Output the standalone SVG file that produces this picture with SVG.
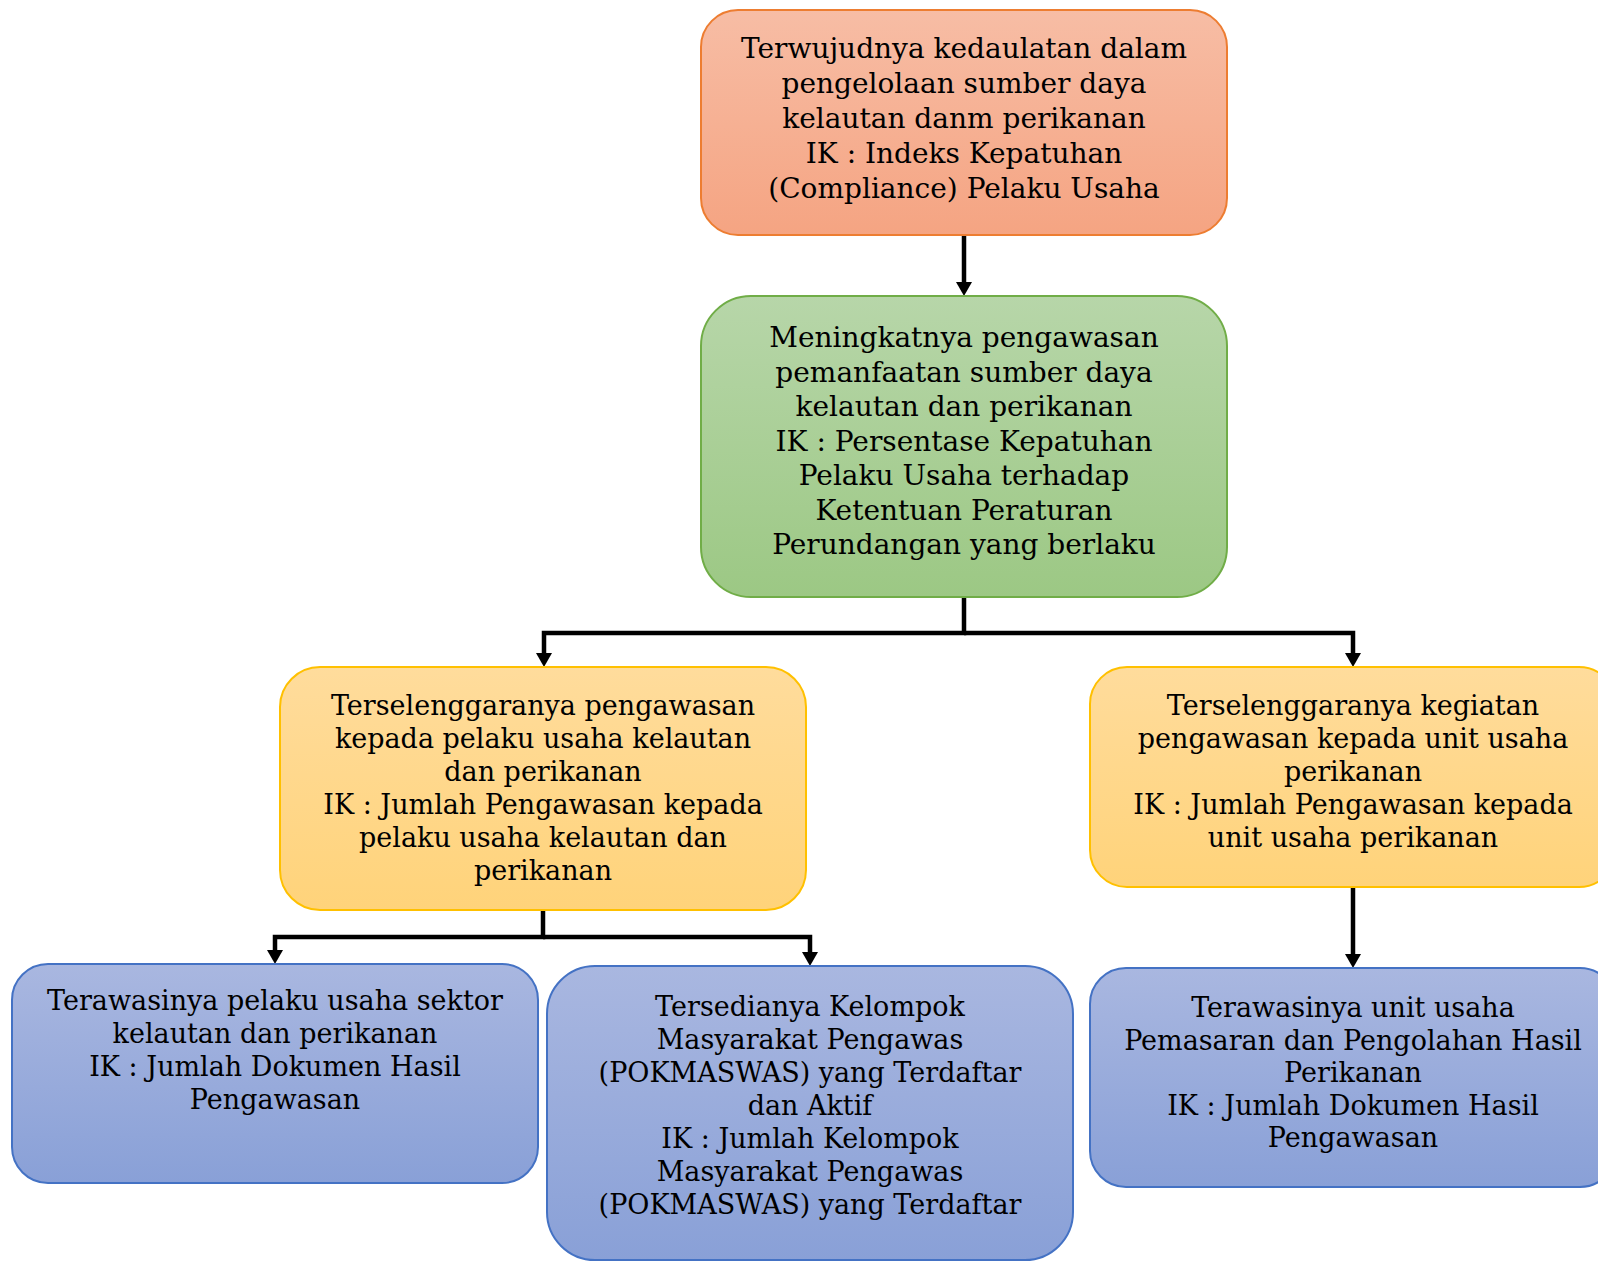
<svg xmlns="http://www.w3.org/2000/svg" width="1598" height="1261" viewBox="0 0 1598 1261">
<defs>
<linearGradient id="gOrange" x1="0" y1="0" x2="0" y2="1"><stop offset="0" stop-color="#F7BDA5"/><stop offset="1" stop-color="#F5A482"/></linearGradient>
<linearGradient id="gGreen" x1="0" y1="0" x2="0" y2="1"><stop offset="0" stop-color="#B7D6A9"/><stop offset="1" stop-color="#9CC884"/></linearGradient>
<linearGradient id="gYellow" x1="0" y1="0" x2="0" y2="1"><stop offset="0" stop-color="#FFDC9C"/><stop offset="1" stop-color="#FFD37A"/></linearGradient>
<linearGradient id="gBlue" x1="0" y1="0" x2="0" y2="1"><stop offset="0" stop-color="#A9B7E0"/><stop offset="1" stop-color="#89A0D7"/></linearGradient>
<marker id="arr" viewBox="0 0 14 16" refX="4" refY="8" markerWidth="14" markerHeight="16" markerUnits="userSpaceOnUse" orient="auto"><path d="M0,0 L14,8 L0,16 z" fill="#000"/></marker>
</defs>
<style>
.orange{fill:url(#gOrange);stroke:#ED7D31;stroke-width:2}
.green{fill:url(#gGreen);stroke:#70AD47;stroke-width:2}
.yellow{fill:url(#gYellow);stroke:#FFC000;stroke-width:2}
.blue{fill:url(#gBlue);stroke:#4472C4;stroke-width:2}
text{font-family:"DejaVu Serif","Liberation Serif",serif;fill:#000;text-anchor:middle}
.t28{font-size:28px}
.t27{font-size:27px}
.conn{fill:none;stroke:#000;stroke-width:4.5;marker-end:url(#arr)}
</style>
<g id="connectors">
<path class="conn" d="M964 235 V286"/>
<path class="conn" d="M964 597 V633 H544 V657"/>
<path class="conn" d="M964 633 H1353 V657"/>
<path class="conn" d="M543 910 V937 H275 V954"/>
<path class="conn" d="M543 937 H810 V956"/>
<path class="conn" d="M1353 887 V958"/>
</g>
<g id="node-top">
<rect class="orange" x="701" y="10" width="526" height="225" rx="37"/>
<text class="t28" x="964" y="58">Terwujudnya kedaulatan dalam</text>
<text class="t28" x="964" y="93">pengelolaan sumber daya</text>
<text class="t28" x="964" y="128">kelautan danm perikanan</text>
<text class="t28" x="964" y="163">IK : Indeks Kepatuhan</text>
<text class="t28" x="964" y="197.5">(Compliance) Pelaku Usaha</text>
</g>
<g id="node-green">
<rect class="green" x="701" y="296" width="526" height="301" rx="50"/>
<text class="t28" x="964" y="347">Meningkatnya pengawasan</text>
<text class="t28" x="964" y="381.5">pemanfaatan sumber daya</text>
<text class="t28" x="964" y="416">kelautan dan perikanan</text>
<text class="t28" x="964" y="450.5">IK : Persentase Kepatuhan</text>
<text class="t28" x="964" y="485">Pelaku Usaha terhadap</text>
<text class="t28" x="964" y="519.5">Ketentuan Peraturan</text>
<text class="t28" x="964" y="554">Perundangan yang berlaku</text>
</g>
<g id="node-yellow-left">
<rect class="yellow" x="280" y="667" width="526" height="243" rx="40"/>
<text class="t27" x="543" y="715">Terselenggaranya pengawasan</text>
<text class="t27" x="543" y="748">kepada pelaku usaha kelautan</text>
<text class="t27" x="543" y="781">dan perikanan</text>
<text class="t27" x="543" y="814">IK : Jumlah Pengawasan kepada</text>
<text class="t27" x="543" y="847">pelaku usaha kelautan dan</text>
<text class="t27" x="543" y="880">perikanan</text>
</g>
<g id="node-yellow-right">
<rect class="yellow" x="1090" y="667" width="526" height="220" rx="37"/>
<text class="t27" x="1353" y="715">Terselenggaranya kegiatan</text>
<text class="t27" x="1353" y="748">pengawasan kepada unit usaha</text>
<text class="t27" x="1353" y="781">perikanan</text>
<text class="t27" x="1353" y="814">IK : Jumlah Pengawasan kepada</text>
<text class="t27" x="1353" y="847">unit usaha perikanan</text>
</g>
<g id="node-blue-left">
<rect class="blue" x="12" y="964" width="526" height="219" rx="36"/>
<text class="t27" x="275" y="1010">Terawasinya pelaku usaha sektor</text>
<text class="t27" x="275" y="1043">kelautan dan perikanan</text>
<text class="t27" x="275" y="1076">IK : Jumlah Dokumen Hasil</text>
<text class="t27" x="275" y="1109">Pengawasan</text>
</g>
<g id="node-blue-middle">
<rect class="blue" x="547" y="966" width="526" height="294" rx="48"/>
<text class="t27" x="810" y="1016">Tersedianya Kelompok</text>
<text class="t27" x="810" y="1049">Masyarakat Pengawas</text>
<text class="t27" x="810" y="1082">(POKMASWAS) yang Terdaftar</text>
<text class="t27" x="810" y="1115">dan Aktif</text>
<text class="t27" x="810" y="1148">IK : Jumlah Kelompok</text>
<text class="t27" x="810" y="1181">Masyarakat Pengawas</text>
<text class="t27" x="810" y="1214">(POKMASWAS) yang Terdaftar</text>
</g>
<g id="node-blue-right">
<rect class="blue" x="1090" y="968" width="526" height="219" rx="36"/>
<text class="t27" x="1353" y="1017">Terawasinya unit usaha</text>
<text class="t27" x="1353" y="1049.5">Pemasaran dan Pengolahan Hasil</text>
<text class="t27" x="1353" y="1082">Perikanan</text>
<text class="t27" x="1353" y="1114.5">IK : Jumlah Dokumen Hasil</text>
<text class="t27" x="1353" y="1147">Pengawasan</text>
</g>
</svg>
